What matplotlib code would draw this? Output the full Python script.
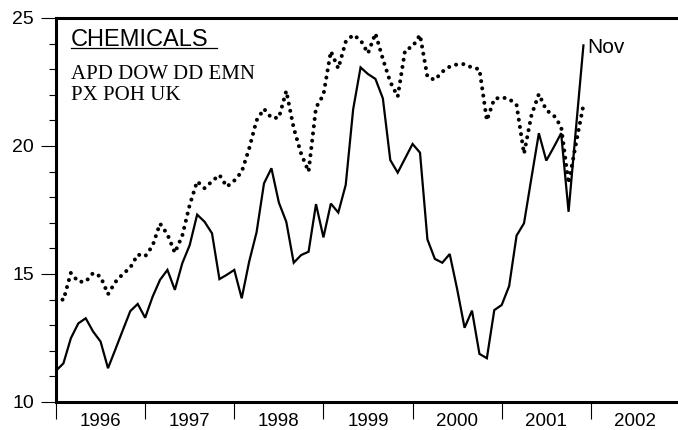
import matplotlib
matplotlib.use('Agg')
import matplotlib.pyplot as plt
import numpy as np

# monthly values, Dec 1995 .. Nov 2001
months = np.arange(72)
solid = [11.22, 11.51, 12.49, 13.07, 13.27, 12.75, 12.36, 11.32, 12.06, 12.81,
         13.55, 13.83, 13.29, 14.11, 14.77, 15.16, 14.38, 15.42, 16.13, 17.32,
         17.04, 16.59, 14.80, 14.97, 15.16, 14.05, 15.48, 16.63, 18.54, 19.13,
         17.79, 17.04, 15.44, 15.74, 15.87, 17.73, 16.43, 17.75, 17.40, 18.48,
         21.43, 23.07, 22.81, 22.62, 21.86, 19.45, 18.96, 19.52, 20.08, 19.74,
         16.35, 15.59, 15.44, 15.78, 14.41, 12.90, 13.57, 11.88, 11.71, 13.59,
         13.79, 14.53, 16.50, 16.98, 18.75, 20.50, 19.43, 19.95, 20.50, 17.43,
         20.70, 23.93]
dotted = [14.13, 13.98, 15.04, 14.70, 14.70, 15.04, 14.90, 14.21, 14.69, 15.00,
          15.25, 15.76, 15.69, 16.10, 16.97, 16.55, 15.83, 16.50, 17.70, 18.62,
          18.35, 18.62, 18.87, 18.41, 18.65, 18.99, 19.90, 21.00, 21.45, 21.10,
          21.10, 22.15, 20.70, 19.70, 19.00, 21.50, 22.00, 23.70, 23.03, 24.07,
          24.34, 24.14, 23.62, 24.40, 23.40, 22.50, 21.93, 23.75, 23.88, 24.34,
          22.70, 22.58, 22.90, 23.10, 23.19, 23.20, 23.06, 23.00, 21.00, 21.84,
          21.90, 21.84, 21.60, 19.70, 21.20, 22.03, 21.40, 21.20, 20.76, 18.54,
          20.10, 21.60]
years = [1996, 1997, 1998, 1999, 2000, 2001, 2002]
x = 1996 + months / 12.0

fig = plt.figure(figsize=(6.78, 4.30), dpi=100)
ax = fig.add_axes([56 / 678, 28 / 430, 624 / 678, 384 / 430])

ax.plot(x, solid, color='black', lw=1.6, solid_joinstyle='miter')
ax.plot(x, dotted, color='black', lw=2.9, dashes=(0.01, 1.8),
        dash_capstyle='round')

ax.set_xlim(1996, 2003)
ax.set_ylim(10, 25)

for side in ['left', 'bottom', 'top']:
    ax.spines[side].set_linewidth(2.2)
ax.spines['right'].set_visible(False)

ax.set_xticks(range(1996, 2004))
ax.set_xticklabels([])
ax.set_xticks([y + 0.5 for y in years], minor=True)
ax.set_xticklabels([str(y) for y in years], minor=True,
                   family='Liberation Sans', fontsize=13.5)
ax.tick_params(axis='x', which='major', direction='out', length=12.5, width=0.8)
ax.tick_params(axis='x', which='minor', length=0, pad=8)

ax.set_yticks([10, 15, 20, 25])
ax.set_yticklabels(['10', '15', '20', '25'], family='Liberation Sans',
                   fontsize=14)
ax.set_yticks(range(10, 26), minor=True)
ax.tick_params(axis='y', which='major', length=11, width=0.8, pad=5)
ax.tick_params(axis='y', which='minor', length=5, width=0.8)

ax.text(0.024, 0.927, 'CHEMICALS', transform=ax.transAxes,
        family='Liberation Sans', fontsize=17, va='baseline')
ax.plot([0.024, 0.258], [0.923, 0.923], transform=ax.transAxes,
        color='black', lw=0.9)
ax.text(0.024, 0.841, 'APD DOW DD EMN', transform=ax.transAxes,
        family='Liberation Serif', fontsize=15, va='baseline')
ax.text(0.024, 0.786, 'PX POH UK', transform=ax.transAxes,
        family='Liberation Serif', fontsize=15, va='baseline')

ax.annotate('Nov', (x[-1], solid[-1]), xytext=(2.5, -5.8),
            textcoords='offset points', family='Liberation Sans',
            fontsize=15, va='baseline')

fig.savefig('out.png', dpi=100)
